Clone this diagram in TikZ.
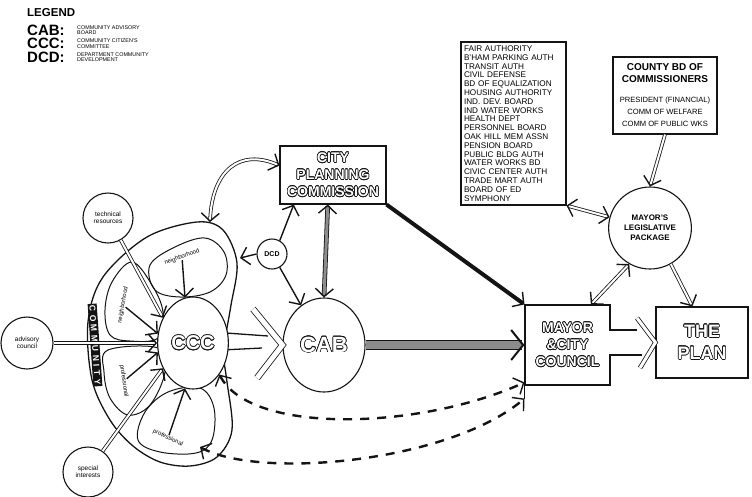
\documentclass[tikz,border=0pt]{standalone}
\usepackage{fontspec}
\setmainfont{Liberation Sans}
\usepackage{contour}
\contourlength{0.6pt}
\usepackage{tikz}
\usetikzlibrary{arrows.meta, shapes.geometric, calc}

\definecolor{ink}{HTML}{141414}
\definecolor{hatch}{HTML}{8C8C8C}
\newcommand{\outl}[1]{\contour{ink}{\textcolor{white}{#1}}}
\newcommand{\cohead}{\bfseries\fontsize{10}{11}\selectfont}
\newcommand{\coline}{\fontsize{7.6}{10}\selectfont}

\tikzset{
  chev/.tip={Straight Barb[length=8pt, width=18pt, line width=1.4pt]},
  bigchev/.tip={Straight Barb[length=12pt, width=30pt, line width=2pt]},
  sketch/.style={draw=ink, line width=1.1pt},
  boxnode/.style={sketch, fill=white, rectangle, inner sep=2pt, align=center},
  bubble/.style={sketch, fill=white, circle, inner sep=0pt, align=center,
                 font=\fontsize{6.5}{7}\selectfont},
  plainln/.style={ink, line width=1.4pt},
  hollowln/.style={ink, line width=0.8pt, double=white, double distance=2pt},
  greyln/.style={ink, line width=0.8pt, double=hatch, double distance=3pt},
  dashln/.style={ink, line width=2.4pt, dash pattern=on 9pt off 8pt},
  heavyln/.style={ink, line width=4pt},
  petal/.style={sketch, line width=1pt},
  petaltext/.style={font=\fontsize{6}{6}\selectfont, inner sep=0pt},
  legkey/.style={anchor=west, inner sep=0pt, font=\bfseries\fontsize{15}{15}\selectfont},
  legtext/.style={anchor=west, align=left, inner sep=0pt, font=\fontsize{5.4}{5.6}\selectfont},
}

\begin{document}
\begin{tikzpicture}[x=1pt, y=-1pt]
  \useasboundingbox (0,0) rectangle (752,496);

  % legend
  \node[legkey, font=\bfseries\fontsize{11.5}{12}\selectfont] (legend) at (27,13) {LEGEND};
  \node[legkey] (kcab) at (27,30) {CAB:};
  \node[legkey] (kccc) at (27,43.5) {CCC:};
  \node[legkey] (kdcd) at (27,57) {DCD:};
  \node[legtext] (tcab) at (77,30) {COMMUNITY ADVISORY\\BOARD};
  \node[legtext] (tccc) at (77,43.5) {COMMUNITY CITIZEN'S\\COMMITTEE};
  \node[legtext] (tdcd) at (77,57) {DEPARTMENT COMMUNITY\\DEVELOPMENT};

  % community outline and its groups
  \draw[sketch, line width=1.3pt] plot[smooth, tension=0.55] coordinates {
    (226,333) (231,305) (237,263) (223,230) (197,222) (147,237) (103,277)
    (88,322) (92,380) (110,420) (133,446) (160,462) (190,466) (217,457)
    (232,430) (227,382) (222,350)};
  \draw[sketch, line width=1.3pt] (226,333) -- (268,336);
  \draw[sketch, line width=1.3pt] (222,350) -- (262,348);
  \draw[petal] plot[smooth cycle, tension=0.6] coordinates {
    (150,265) (175,247) (205,238) (224,252) (226,275) (210,292) (180,297) (155,290)};
  \draw[petal] plot[smooth cycle, tension=0.6] coordinates {
    (132,262) (112,282) (105,310) (110,335) (130,341) (158,338) (163,312) (152,285)};
  \draw[petal] plot[smooth cycle, tension=0.6] coordinates {
    (108,350) (158,348) (165,372) (150,405) (128,415) (110,398) (104,372)};
  \draw[petal] plot[smooth cycle, tension=0.6] coordinates {
    (168,392) (200,388) (214,408) (212,440) (196,453) (160,452) (138,440) (145,412)};
  \node[petaltext, rotate=20] (nb1) at (182,257) {neighborhood};
  \node[petaltext, rotate=80] (nb2) at (123,305) {neighborhood};
  \node[petaltext, rotate=-82] (pr1) at (124,381) {professional};
  \node[petaltext, rotate=-25] (pr2) at (168,438) {professional};
  \node[fill=ink, text=white, rotate=-86, inner sep=1.5pt,
        font=\bfseries\fontsize{8.5}{8.5}\selectfont\addfontfeatures{LetterSpace=40}]
        (community) at (95,345) {COMMUNITY};

  % main bodies
  \node[sketch, fill=white, ellipse, minimum width=58pt, minimum height=92pt,
        font=\bfseries\fontsize{20}{20}\selectfont] (ccc) at (193,343) {\outl{CCC}};
  \node[sketch, fill=white, ellipse, minimum width=82pt, minimum height=94pt,
        font=\bfseries\fontsize{22}{22}\selectfont] (cab) at (324,345) {\outl{CAB}};
  \node[bubble, minimum size=30pt, font=\bfseries\fontsize{7}{7}\selectfont] (dcd) at (272,254) {DCD};
  \node[bubble, minimum size=50pt] (tech) at (108,218) {technical\\resources};
  \node[bubble, minimum size=52pt] (adv) at (27,343) {advisory\\council};
  \node[bubble, minimum size=50pt] (spec) at (88,472) {special\\interests};

  \node[boxnode, minimum width=106pt, minimum height=58pt,
        font=\bfseries\fontsize{14}{17}\selectfont] (cpc) at (333,175)
        {\outl{CITY}\\\outl{PLANNING}\\\outl{COMMISSION}};
  \node[boxnode, minimum width=105pt, minimum height=163pt, align=left, text width=99pt,
        font=\fontsize{8.2}{8.8}\selectfont] (boards) at (513.5,123.5)
        {FAIR AUTHORITY\\B'HAM PARKING AUTH\\TRANSIT AUTH\\CIVIL DEFENSE\\
         BD OF EQUALIZATION\\HOUSING AUTHORITY\\IND. DEV. BOARD\\IND WATER WORKS\\
         HEALTH DEPT\\PERSONNEL BOARD\\OAK HILL MEM ASSN\\PENSION BOARD\\
         PUBLIC BLDG AUTH\\WATER WORKS BD\\CIVIC CENTER AUTH\\TRADE MART AUTH\\
         BOARD OF ED\\SYMPHONY};
  \node[boxnode, minimum width=104pt, minimum height=77pt] (county) at (665,95.5)
        {\cohead COUNTY BD OF\\\cohead COMMISSIONERS\\[8pt]
         \coline PRESIDENT (FINANCIAL)\\\coline COMM OF WELFARE\\\coline COMM OF PUBLIC WKS};
  \node[sketch, fill=white, ellipse, minimum width=76pt, minimum height=82pt, align=center,
        font=\bfseries\fontsize{8}{10}\selectfont] (pkg) at (650,228)
        {MAYOR'S\\LEGISLATIVE\\PACKAGE};
  \node[boxnode, minimum width=85pt, minimum height=80pt,
        font=\bfseries\fontsize{14}{17}\selectfont] (mayor) at (567.5,345)
        {\outl{MAYOR}\\\outl{\&CITY}\\\outl{COUNCIL}};
  \node[boxnode, minimum width=92pt, minimum height=71pt,
        font=\bfseries\fontsize{18}{22}\selectfont] (plan) at (702,342.5)
        {\outl{THE}\\\outl{PLAN}};

  % mayor box opening towards the plan
  \fill[white] (608.5,330.6) rectangle (611.5,354.4);
  \draw[sketch] (610,330) -- (637,330);
  \draw[sketch] (610,355) -- (642,355);
  \draw[sketch] (mayor.south west) -- ++(0,13) coordinate (mlow);
  \draw[hollowln, double distance=3pt] (637,318) -- (plan.west) -- (640,368);

  % ccc into cab
  \draw[hollowln, double distance=5pt] (253,309) -- (cab.west) -- (257,378);

  % named ends on the community outline
  \coordinate (ctop) at (210,222);
  \coordinate (cright) at (240,258);
  \coordinate (bpetal) at (200,447);

  % connectors
  \draw[hollowln, chev-chev] (cpc.170) .. controls (240,148) and (212,170) .. (ctop);
  \draw[greyln, chev-chev] (cpc.-100) -- (cab.north);
  \draw[heavyln, -chev] (cpc.south east) -- (mayor.north west);
  \draw[plainln, -chev] (dcd.60) -- (cpc.-143);
  \draw[plainln, -chev] (dcd.west) -- (cright);
  \draw[plainln, -chev] (dcd.-60) -- (cab.120);
  \draw[greyln, double distance=8pt, -bigchev] (cab.east) -- (mayor.west);

  \draw[hollowln, -chev] (tech.-60) -- (ccc.140);
  \draw[hollowln, -chev] (adv.east) -- (ccc.west);
  \draw[hollowln, -chev] (spec.55) -- (ccc.-140);
  \draw[plainln, -chev] (nb1) -- (ccc.100);
  \draw[plainln, -chev] (nb2) -- (ccc.165);
  \draw[plainln, -chev] (pr1) -- (ccc.-165);
  \draw[plainln, -chev] (pr2) -- (ccc.-100);

  \draw[dashln, chev-chev] (ccc.-50) .. controls (250,435) and (420,430) .. (mayor.-139);
  \draw[dashln, chev-chev] (bpetal) .. controls (260,480) and (450,462) .. (mlow);

  \draw[hollowln, -chev] (county.south) -- (pkg.north);
  \draw[hollowln, chev-chev] (pkg.165) -- (boards.south east);
  \draw[hollowln, chev-chev] (pkg.-120) -- (mayor.60);
  \draw[hollowln, -chev] (pkg.-60) -- (plan.105);
\end{tikzpicture}
\end{document}
